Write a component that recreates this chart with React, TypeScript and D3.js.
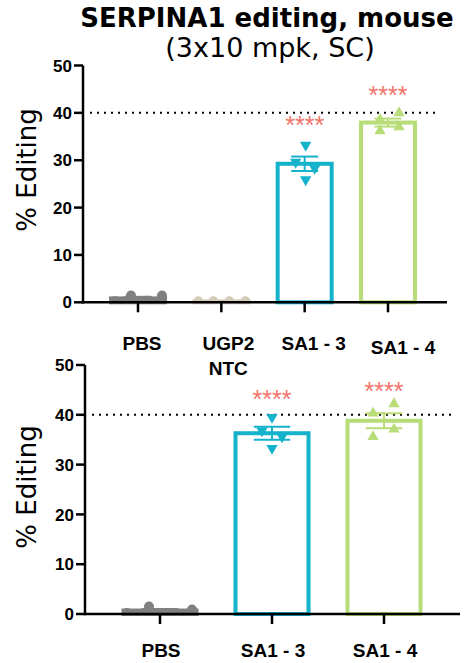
import React from "react";
import * as d3 from "d3";

// ---------- data ----------
const topCategories = ["PBS", "UGP2 NTC", "SA1 - 3", "SA1 - 4"];
const topValues: number[][] = [
  [0.2, 1.4, 0.3, 1.4],
  [0.2, 0.2, 0.2, 0.2],
  [33.2, 29.6, 28.3, 25.9],
  [38.6, 40.0, 36.2, 37.0],
];
const topSig = ["", "", "****", "****"];
const topSigLevel = [0, 0, 38.5, 44.9];

const bottomCategories = ["PBS", "SA1 - 3", "SA1 - 4"];
const bottomValues: number[][] = [
  [0.2, 1.5, 0.2, 0.9],
  [39.5, 36.8, 35.6, 33.3],
  [42.2, 40.3, 37.1, 35.6],
];
const bottomSig = ["", "****", "****"];
const bottomSigLevel = [0, 44.2, 45.8];

const yTicks = [0, 10, 20, 30, 40, 50];
const refLine = 40;

const titleText = "SERPINA1 editing, mouse";
const subtitleText = "(3x10 mpk, SC)";
const yLabel = "% Editing";

// ---------- layout (horizontal scatter offsets of points, px) ----------
const topJitter = [
  [-23, -7, 9, 24],
  [-23, -8, 8, 24],
  [1, -9, 10, 1],
  [-8, 11, -8, 11],
];
const bottomJitter = [
  [-33, -11, 10, 32],
  [0, -10, 10, 0],
  [10, -11, 10, -11],
];

// ---------- styles ----------
const colorMap: Record<string, string> = {
  PBS: "#808080",
  "UGP2 NTC": "#d5ccb8",
  "SA1 - 3": "#15b2cc",
  "SA1 - 4": "#b8dd78",
};
const shapeMap: Record<string, string> = {
  PBS: "circle",
  "UGP2 NTC": "circle",
  "SA1 - 3": "down",
  "SA1 - 4": "up",
};
const sigColor = "#f2736b";

type PanelProps = {
  id: string;
  cats: string[];
  values: number[][];
  jitter: number[][];
  sig: string[];
  sigLevel: number[];
  axisX: number;
  axisRight: number;
  y0: number;
  y50: number;
  firstCenter: number;
  lastCenter: number;
  barWidth: number;
  labelOffsets: { dx: number; dy: number }[];
  labelY: number;
  refStart: number;
  refEnd: number;
  yLabelY: number;
};

function mean(a: number[]) {
  return d3.mean(a) as number;
}
function sem(a: number[]) {
  return (d3.deviation(a) as number) / Math.sqrt(a.length);
}

const Panel: React.FC<PanelProps> = (p) => {
  const y = d3.scaleLinear().domain([0, 50]).range([p.y0, p.y50]);
  const x = d3.scalePoint<string>().domain(p.cats).range([p.firstCenter, p.lastCenter]);
  const circle = d3.symbol().type(d3.symbolCircle).size(80)();
  const tri = d3.symbol().type(d3.symbolTriangle).size(56)();
  const clipId = `clip-${p.id}`;
  const tickFont = "'Liberation Sans', Arial, sans-serif";
  return (
    <g>
      <defs>
        <clipPath id={clipId}>
          <rect x={p.axisX} y={p.y50 - 30} width={p.axisRight - p.axisX + 10} height={p.y0 - p.y50 + 30} />
        </clipPath>
      </defs>
      {/* reference line */}
      <line
        x1={p.refStart}
        x2={p.refEnd}
        y1={y(refLine)}
        y2={y(refLine)}
        stroke="#000"
        strokeWidth={2}
        strokeDasharray="2 5"
      />
      {/* bars */}
      {p.cats.map((c, i) => {
        const m = mean(p.values[i]);
        const cx = x(c) as number;
        return (
          <rect
            key={"bar" + c}
            x={cx - p.barWidth / 2}
            y={y(m)}
            width={p.barWidth}
            height={p.y0 - y(m)}
            fill="#fff"
            stroke={colorMap[c]}
            strokeWidth={4}
          />
        );
      })}
      {/* points */}
      <g clipPath={`url(#${clipId})`}>
        {p.cats.map((c, i) => {
          const cx = x(c) as number;
          return p.values[i].map((v, j) => {
            const px = cx + p.jitter[i][j];
            const shape = shapeMap[c];
            const d = shape === "circle" ? circle : tri;
            const rot = shape === "down" ? 180 : 0;
            return (
              <path
                key={c + j}
                d={d as string}
                transform={`translate(${px},${y(v)}) rotate(${rot})`}
                fill={colorMap[c]}
              />
            );
          });
        })}
      </g>
      {/* error bars */}
      {p.cats.map((c, i) => {
        const m = mean(p.values[i]);
        const s = sem(p.values[i]);
        const cx = x(c) as number;
        const hw = p.barWidth / 4;
        return (
          <g key={"err" + c} stroke={colorMap[c]} strokeWidth={2}>
            <line x1={cx} x2={cx} y1={y(m - s)} y2={y(m + s)} />
            <line x1={cx - hw} x2={cx + hw} y1={y(m + s)} y2={y(m + s)} />
            <line x1={cx - hw} x2={cx + hw} y1={y(m - s)} y2={y(m - s)} />
          </g>
        );
      })}
      {/* significance */}
      {p.cats.map((c, i) =>
        p.sig[i] ? (
          <text
            key={"sig" + c}
            x={x(c) as number}
            y={y(p.sigLevel[i]) + 14}
            textAnchor="middle"
            fill={sigColor}
            fontFamily={tickFont}
            fontSize={25}
          >
            {p.sig[i]}
          </text>
        ) : null
      )}
      {/* y axis */}
      <line x1={p.axisX} x2={p.axisX} y1={y(0) + 1.25} y2={y(50)} stroke="#000" strokeWidth={2.5} />
      {yTicks.map((t) => (
        <g key={"yt" + t}>
          <line x1={p.axisX - 9} x2={p.axisX} y1={y(t)} y2={y(t)} stroke="#000" strokeWidth={2.5} />
          <text
            x={p.axisX - 11}
            y={y(t)}
            dy="0.36em"
            textAnchor="end"
            fontFamily={tickFont}
            fontWeight="bold"
            fontSize={17}
          >
            {t}
          </text>
        </g>
      ))}
      {/* x axis */}
      <line x1={p.axisX} x2={p.axisRight} y1={y(0)} y2={y(0)} stroke="#000" strokeWidth={2.5} />
      {p.cats.map((c, i) => {
        const cx = x(c) as number;
        const lines = c === "UGP2 NTC" ? ["UGP2", "NTC"] : [c];
        const off = p.labelOffsets[i];
        return (
          <g key={"xt" + c}>
            <line x1={cx} x2={cx} y1={y(0)} y2={y(0) + 10} stroke="#000" strokeWidth={2.5} />
            <text
              x={cx + off.dx}
              y={p.labelY + off.dy}
              textAnchor="middle"
              fontFamily={tickFont}
              fontWeight="bold"
              fontSize={19}
            >
              {lines.map((l, k) => (
                <tspan key={k} x={cx + off.dx} dy={k === 0 ? 0 : 25}>
                  {l}
                </tspan>
              ))}
            </text>
          </g>
        );
      })}
      {/* y label */}
      <text
        transform={`translate(36,${p.yLabelY}) rotate(-90)`}
        textAnchor="middle"
        fontFamily="'DejaVu Sans', Verdana, sans-serif"
        fontSize={26}
      >
        {yLabel}
      </text>
    </g>
  );
};

export default function App() {
  return (
    <svg
      width={468}
      height={663}
      style={{ position: "absolute", left: 0, top: 0, background: "#fff" }}
    >
      <text
        x={267}
        y={27}
        textAnchor="middle"
        fontFamily="'DejaVu Sans', Verdana, sans-serif"
        fontWeight="bold"
        fontSize={26}
      >
        {titleText}
      </text>
      <text
        x={270}
        y={57}
        textAnchor="middle"
        fontFamily="'DejaVu Sans', Verdana, sans-serif"
        fontSize={27}
      >
        {subtitleText}
      </text>
      <Panel
        id="top"
        cats={topCategories}
        values={topValues}
        jitter={topJitter}
        sig={topSig}
        sigLevel={topSigLevel}
        axisX={83}
        axisRight={447}
        y0={302.3}
        y50={65.5}
        firstCenter={138}
        lastCenter={388}
        barWidth={54}
        labelOffsets={[
          { dx: 4, dy: 0 },
          { dx: 7, dy: 0 },
          { dx: 9, dy: 0 },
          { dx: 15, dy: 4 },
        ]}
        labelY={350}
        refStart={90}
        refEnd={437}
        yLabelY={170}
      />
      <Panel
        id="bottom"
        cats={bottomCategories}
        values={bottomValues}
        jitter={bottomJitter}
        sig={bottomSig}
        sigLevel={bottomSigLevel}
        axisX={85}
        axisRight={460}
        y0={614}
        y50={365}
        firstCenter={160}
        lastCenter={384}
        barWidth={73}
        labelOffsets={[
          { dx: 1, dy: 0 },
          { dx: 1, dy: 0 },
          { dx: 1, dy: 0 },
        ]}
        labelY={657}
        refStart={92}
        refEnd={453}
        yLabelY={487}
      />
    </svg>
  );
}
